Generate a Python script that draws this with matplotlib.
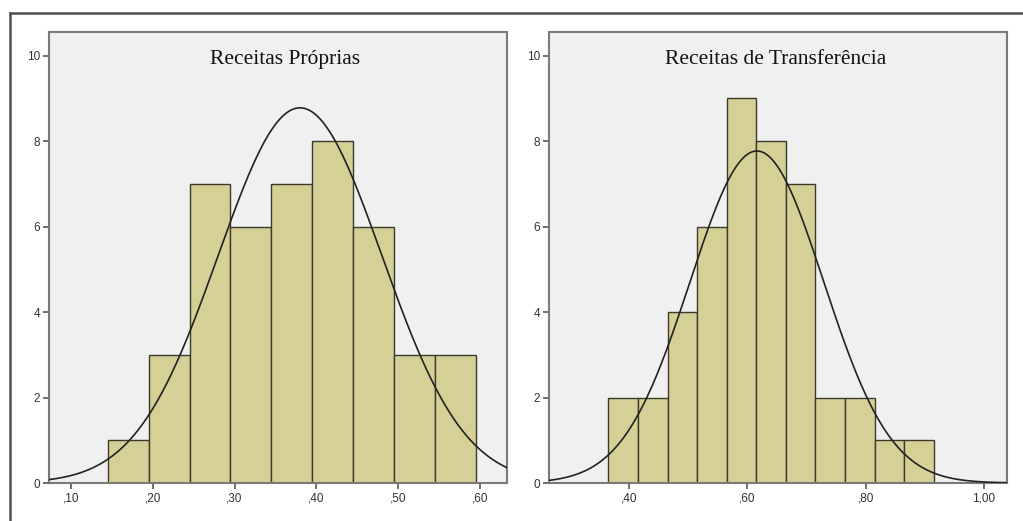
import numpy as np
import matplotlib
matplotlib.use("Agg")
import matplotlib.pyplot as plt
from matplotlib.lines import Line2D

# ---- data ----
titles = ["Receitas Próprias", "Receitas de Transferência"]
left_edges_proprias = [0.145, 0.195, 0.245, 0.295, 0.345, 0.395, 0.445, 0.495, 0.545]
counts_proprias = [1, 3, 7, 6, 7, 8, 6, 3, 3]
left_edges_transf = [0.365, 0.415, 0.465, 0.515, 0.565, 0.615, 0.665, 0.715, 0.765, 0.815, 0.865]
counts_transf = [2, 2, 4, 6, 9, 8, 7, 2, 2, 1, 1]
bin_width = 0.05
mean_proprias, sd_proprias = 0.380, 0.100
mean_transf, sd_transf = 0.616, 0.113
xticks_proprias = [0.10, 0.20, 0.30, 0.40, 0.50, 0.60]
xticklabels_proprias = [",10", ",20", ",30", ",40", ",50", ",60"]
xticks_transf = [0.40, 0.60, 0.80, 1.00]
xticklabels_transf = [",40", ",60", ",80", "1,00"]
yticks = [0, 2, 4, 6, 8, 10]

W, H = 1023, 521
fig = plt.figure(figsize=(W / 100, H / 100), dpi=100)
fig.patch.set_facecolor("white")

bar_color = "#d4d096"
edge_color = "#3b3a2c"
bg_color = "#f0f0f0"
spine_color = "#7a7a7a"

panels = [
    dict(ax_px=(49, 507), xlim=(0.0732, 0.633), edges=left_edges_proprias,
         counts=counts_proprias, mean=mean_proprias, sd=sd_proprias,
         xt=xticks_proprias, xtl=xticklabels_proprias, title=titles[0], tx=285),
    dict(ax_px=(549, 1007), xlim=(0.2644, 1.039), edges=left_edges_transf,
         counts=counts_transf, mean=mean_transf, sd=sd_transf,
         xt=xticks_transf, xtl=xticklabels_transf, title=titles[1], tx=776),
]

top_px, bot_px = 32, 483
for p in panels:
    x0, x1 = p["ax_px"]
    ax = fig.add_axes([x0 / W, 1 - bot_px / H, (x1 - x0) / W, (bot_px - top_px) / H])
    ax.set_facecolor(bg_color)
    ax.bar(p["edges"], p["counts"], width=bin_width, align="edge",
           color=bar_color, edgecolor=edge_color, linewidth=1.0, zorder=2)
    n = sum(p["counts"])
    xs = np.linspace(p["xlim"][0], p["xlim"][1], 400)
    ys = n * bin_width / (p["sd"] * np.sqrt(2 * np.pi)) * np.exp(-(xs - p["mean"]) ** 2 / (2 * p["sd"] ** 2))
    ax.plot(xs, ys, color="#222222", linewidth=1.2, zorder=3)
    ax.set_xlim(*p["xlim"])
    ax.set_ylim(0, 10.55)
    ax.set_xticks(p["xt"])
    ax.set_xticklabels(p["xtl"])
    ax.set_yticks(yticks)
    ax.set_yticklabels([str(v) for v in yticks])
    ax.tick_params(axis="both", direction="out", length=4, width=1.2, color="#555555",
                   labelsize=8.5, labelcolor="#333333", pad=2.5)
    for lab in ax.get_xticklabels() + ax.get_yticklabels():
        lab.set_family("Liberation Sans")
    for s in ax.spines.values():
        s.set_color(spine_color)
        s.set_linewidth(1.5)
    ax.text((p["tx"] - x0) / (x1 - x0), 1 - (60 - top_px) / (bot_px - top_px), p["title"],
            transform=ax.transAxes, ha="center", va="center",
            fontsize=15.5, family="Liberation Serif", color="#111111")

# outer frame lines
fig.add_artist(Line2D([10 / W, 10 / W], [0, 1 - 13 / H], color="#505050", linewidth=1.8,
                      transform=fig.transFigure))
fig.add_artist(Line2D([10 / W, 1.0], [1 - 13 / H, 1 - 13 / H], color="#505050", linewidth=1.8,
                      transform=fig.transFigure))

fig.savefig("out.png", dpi=100)
